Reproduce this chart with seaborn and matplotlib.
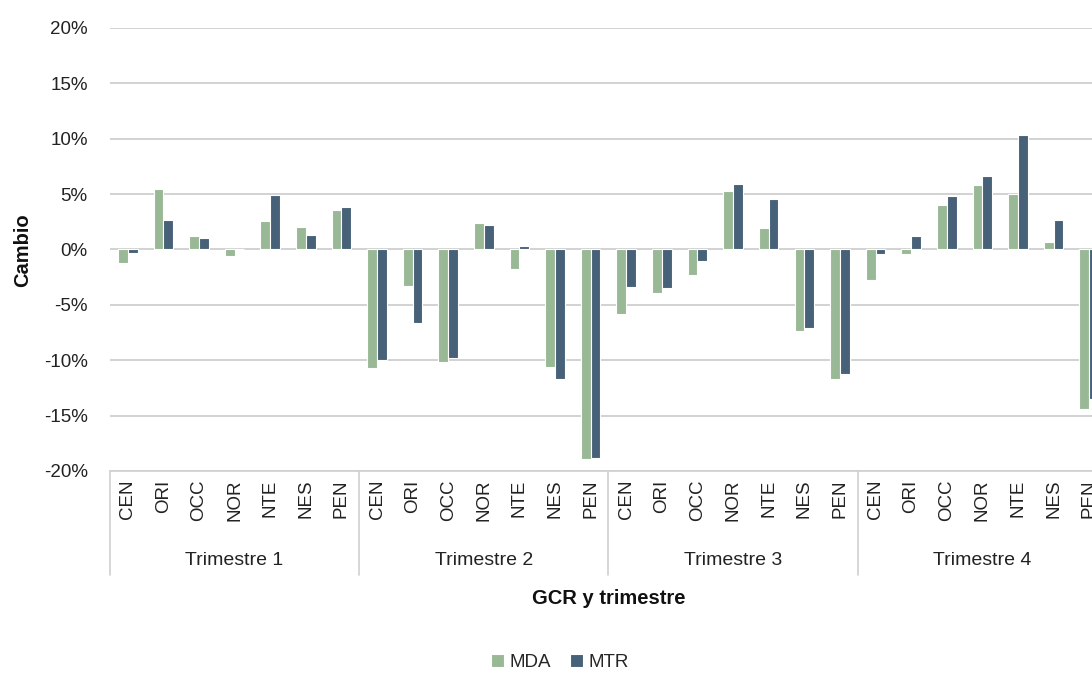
import pandas as pd
import numpy as np
import matplotlib.pyplot as plt
from matplotlib.ticker import FuncFormatter
import matplotlib.transforms as mtransforms
import seaborn as sns

# Regions (GCR) repeated for each quarter
regions = ['CEN', 'ORI', 'OCC', 'NOR', 'NTE', 'NES', 'PEN']
quarters = ['Trimestre 1', 'Trimestre 2', 'Trimestre 3', 'Trimestre 4']

# Percent change by region, quarter after quarter
mda = [-1.2, 5.5, 1.2, -0.6, 2.6, 2.0, 3.6,
       -10.7, -3.3, -10.2, 2.4, -1.8, -10.6, -18.9,
       -5.8, -3.9, -2.3, 5.3, 1.9, -7.4, -11.7,
       -2.8, -0.4, 4.0, 5.8, 5.0, 0.7, -14.4]
mtr = [-0.3, 2.7, 1.0, 0.0, 4.9, 1.3, 3.8,
       -10.0, -6.6, -9.8, 2.2, 0.3, -11.7, -18.8,
       -3.4, -3.5, -1.0, 5.9, 4.6, -7.1, -11.2,
       -0.4, 1.2, 4.8, 6.6, 10.3, 2.7, -13.5]

slots = [f'{q}|{r}' for q in quarters for r in regions]
df = pd.DataFrame({
    'slot': slots * 2,
    'Cambio': mda + mtr,
    'Serie': ['MDA'] * len(mda) + ['MTR'] * len(mtr),
})

sns.set_style('white')
plt.rcParams['font.family'] = ['Liberation Sans', 'DejaVu Sans']

fig = plt.figure(figsize=(10.92, 6.73), dpi=100)
ax = fig.add_axes([0.1007, 0.3002, 0.913, 0.6582])

sns.barplot(data=df, x='slot', y='Cambio', hue='Serie', order=slots,
            palette={'MDA': '#95BE8F', 'MTR': '#3E6180'},
            width=0.55, edgecolor='white', linewidth=0.8, ax=ax)

ax.set_ylim(-20, 20)
ax.set_xlim(-0.5, len(slots) - 0.5)
ax.set_yticks(np.arange(-20, 21, 5))
ax.yaxis.set_major_formatter(FuncFormatter(lambda v, p: f'{v:.0f}%'))
ax.yaxis.grid(True, color='#cfcfcf', linewidth=1.3)
ax.set_axisbelow(True)
for s in ax.spines.values():
    s.set_visible(False)
ax.tick_params(axis='y', length=0, pad=16, labelsize=13.5, labelcolor='#222222')
ax.set_xticks(range(len(slots)))
ax.set_xticklabels(regions * len(quarters), rotation=90, fontsize=13.5, color='#222222')
ax.tick_params(axis='x', length=0, pad=6)
ax.set_xlabel('')
ax.set_ylabel('')

# two-level category axis: separators and quarter labels
trans = mtransforms.blended_transform_factory(ax.transData, ax.transAxes)
ax.plot([-0.5, len(slots) - 0.5], [0, 0], transform=trans, color='#d0d0d0',
        lw=1.2, clip_on=False)
for i in range(len(quarters) + 1):
    x = i * len(regions) - 0.5
    ax.plot([x, x], [0, -0.235], transform=trans, color='#d0d0d0', lw=1.2, clip_on=False)
for i, q in enumerate(quarters):
    ax.text(i * len(regions) + 3, -0.203, q, transform=trans, ha='center', va='center',
            fontsize=14, color='#222222')

ax.text(0.5, -0.289, 'GCR y trimestre', transform=ax.transAxes, ha='center', va='center',
        fontsize=14.5, fontweight='bold', color='#111111')
fig.text(0.021, 0.628, 'Cambio', rotation=90, ha='center', va='center',
         fontsize=14.5, fontweight='bold', color='#111111')

sns.move_legend(ax, 'center', bbox_to_anchor=(0.513, 0.015), bbox_transform=fig.transFigure,
                ncol=2, frameon=False, title=None, fontsize=13.5, handlelength=0.7,
                handleheight=0.7, handletextpad=0.3, columnspacing=1.0)

fig.savefig('out.png', dpi=100)
